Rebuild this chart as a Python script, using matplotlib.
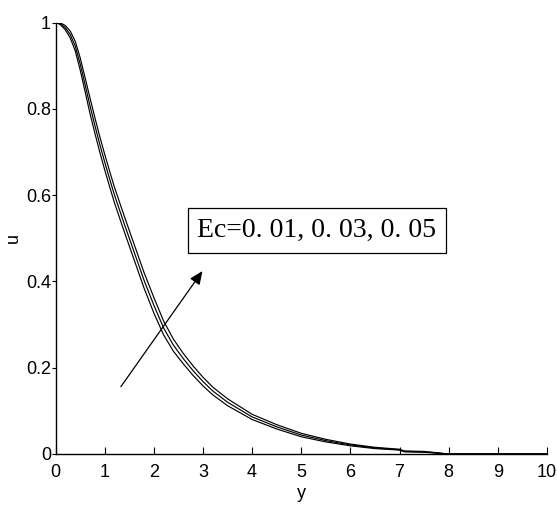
import matplotlib
matplotlib.use("Agg")
import matplotlib.pyplot as plt

# ---- data ----
y_vals = [0.0, 0.1, 0.2, 0.3, 0.4, 0.5, 0.6, 0.7, 0.8, 0.9, 1.0, 1.1, 1.2, 1.4,
          1.6, 1.8, 2.0, 2.2, 2.4, 2.6, 2.8, 3.0, 3.2, 3.5, 4.0, 4.5, 5.0, 5.5,
          6.0, 6.5, 7.0, 7.1, 7.5, 8.0, 9.0, 10.0]

u_ec001 = [1.0, 0.995, 0.983, 0.964, 0.935, 0.891, 0.841, 0.790, 0.744, 0.700,
           0.659, 0.620, 0.582, 0.515, 0.450, 0.385, 0.327, 0.276, 0.238, 0.209,
           0.182, 0.158, 0.137, 0.112, 0.080, 0.058, 0.040, 0.028, 0.019, 0.0125,
           0.009, 0.005, 0.004, 0.0, 0.0, 0.0]
u_ec003 = [1.0, 0.997, 0.988, 0.972, 0.946, 0.905, 0.857, 0.808, 0.762, 0.718,
           0.677, 0.638, 0.600, 0.533, 0.468, 0.403, 0.345, 0.292, 0.252, 0.221,
           0.193, 0.168, 0.146, 0.120, 0.086, 0.063, 0.044, 0.031, 0.021, 0.014,
           0.010, 0.006, 0.005, 0.0, 0.0, 0.0]
u_ec005 = [1.0, 0.999, 0.993, 0.980, 0.957, 0.919, 0.873, 0.826, 0.780, 0.736,
           0.695, 0.656, 0.618, 0.551, 0.486, 0.421, 0.363, 0.308, 0.266, 0.233,
           0.204, 0.178, 0.155, 0.128, 0.092, 0.068, 0.048, 0.034, 0.023, 0.0155,
           0.011, 0.007, 0.006, 0.0, 0.0, 0.0]

x_ticks = [0, 1, 2, 3, 4, 5, 6, 7, 8, 9, 10]
y_ticks = [0, 0.2, 0.4, 0.6, 0.8, 1.0]
y_ticklabels = ["0", "0.2", "0.4", "0.6", "0.8", "1"]

annot_text = "Ec=0. 01, 0. 03, 0. 05"
arrow_tail = (1.33, 0.156)
arrow_head = (2.99, 0.424)
text_pos = (5.32, 0.518)

# ---- figure ----
W, H = 557, 507
fig = plt.figure(figsize=(W / 100, H / 100), dpi=100)
left, right, top, bottom = 55.5, 547, 22.5, 454
ax = fig.add_axes([left / W, 1 - bottom / H, (right - left) / W, (bottom - top) / H])

for u in (u_ec001, u_ec003, u_ec005):
    ax.plot(y_vals, u, color="black", lw=0.85, solid_joinstyle="round")

ax.set_xlim(0, 10)
ax.set_ylim(0, 1)
ax.set_xticks(x_ticks)
ax.set_yticks(y_ticks)
ax.set_yticklabels(y_ticklabels)

for s in ("top", "right"):
    ax.spines[s].set_visible(False)
for s in ("left", "bottom"):
    ax.spines[s].set_linewidth(1.0)

ax.tick_params(axis="x", direction="in", length=5, width=0.8, pad=7)
ax.tick_params(axis="y", direction="out", length=3, width=0.8, pad=0.3)
for lab in ax.get_xticklabels() + ax.get_yticklabels():
    lab.set_fontfamily("Liberation Sans")
    lab.set_fontsize(13)

ax.set_xlabel("y", fontfamily="Liberation Sans", fontsize=13, labelpad=3)
ax.set_ylabel("u", fontfamily="Liberation Sans", fontsize=13, labelpad=3)

ax.annotate("", xy=arrow_head, xytext=arrow_tail,
            arrowprops=dict(arrowstyle="-|>,head_length=0.8,head_width=0.35",
                            color="black", lw=0.9, shrinkA=0, shrinkB=0))
ax.text(text_pos[0], text_pos[1], annot_text, ha="center", va="center",
        fontfamily="Liberation Serif", fontsize=20,
        bbox=dict(boxstyle="square,pad=0.35", fc="white", ec="black", lw=0.9))

fig.savefig("out.png", dpi=100)
